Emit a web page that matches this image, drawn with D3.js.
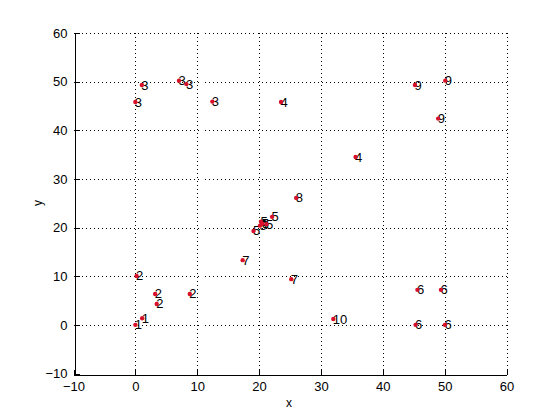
<!DOCTYPE html>
<html><head><meta charset="utf-8">
<script src="https://cdn.jsdelivr.net/npm/d3@7"></script>
<style>body{margin:0;background:#fff}svg{display:block}text{font-family:"Liberation Sans",Arial,sans-serif}</style>
</head><body>
<svg id="c" width="560" height="420"></svg>
<script>
const xs = [0, 1.1, 0.2, 3.2, 3.45, 8.8, 0.0, 1.05, 7.05, 8.25, 12.45, 23.55, 35.6, 45.2, 50.1, 48.95, 26.0, 22.1, 21.2, 20.15, 19.1, 20.3, 20.5, 17.35, 25.2, 32.0, 45.6, 49.4, 45.3, 50.05];
const ys = [0, 1.35, 10.05, 6.35, 4.3, 6.35, 45.8, 49.3, 50.2, 49.5, 45.9, 45.8, 34.5, 49.3, 50.2, 42.4, 26.1, 22.2, 20.7, 20.4, 19.3, 21.2, 20.8, 13.3, 9.4, 1.2, 7.2, 7.2, 0, 0];
const labels = ["1","1","2","2","2","2","3","3","3","3","3","4","4","9","9","9","8","5","5","5","5","5","5","7","7","10","6","6","6","6"];
const xTicks = [-10, 0, 10, 20, 30, 40, 50, 60];
const yTicks = [-10, 0, 10, 20, 30, 40, 50, 60];

const svg = d3.select("#c");
const L = 73.5, R = 506.5, T = 33, B = 373.5;
const x = d3.scaleLinear().domain([-10, 60]).range([L, R]);
const y = d3.scaleLinear().domain([-10, 60]).range([B, T]);

// grid
const g = svg.append("g").attr("stroke", "#000").attr("stroke-width", 1).attr("stroke-dasharray", "1,3").attr("shape-rendering", "crispEdges");
xTicks.filter(t => t > -10).forEach(t => g.append("line").attr("x1", Math.round(x(t)) + 0.5).attr("x2", Math.round(x(t)) + 0.5).attr("y1", T).attr("y2", B));
yTicks.filter(t => t > -10).forEach(t => g.append("line").attr("y1", Math.round(y(t)) + 0.5).attr("y2", Math.round(y(t)) + 0.5).attr("x1", L).attr("x2", R));

// axes
const ax = svg.append("g").attr("transform", `translate(0,${Math.round(B) + 0.5})`)
  .call(d3.axisBottom(x).tickValues(xTicks).tickSizeInner(-5).tickSizeOuter(0).tickPadding(7));
const ay = svg.append("g").attr("transform", `translate(${Math.round(L) + 0.5},0)`)
  .call(d3.axisLeft(y).tickValues(yTicks).tickSizeInner(-5).tickSizeOuter(0).tickPadding(7));
[ax, ay].forEach(a => {
  a.select(".domain").attr("stroke", "#000").attr("shape-rendering", "crispEdges");
  a.selectAll(".tick line").attr("stroke", "#000").attr("shape-rendering", "crispEdges");
  a.selectAll("text").attr("font-size", 13).attr("fill", "#000").attr("font-family", '"Liberation Sans",Arial,sans-serif');
});
ay.selectAll("text").attr("dx", "0");

svg.append("text").attr("x", 289).attr("y", 407).attr("text-anchor", "middle").attr("font-size", 12).text("x");
svg.append("text").attr("transform", "translate(42,203) rotate(-90)").attr("text-anchor", "middle").attr("font-size", 12).text("y");

// points + labels
const data = xs.map((v, i) => ({x: v, y: ys[i], l: labels[i]}));
svg.append("g").selectAll("text").data(data).join("text")
  .attr("x", d => x(d.x) - 0.5).attr("y", d => y(d.y) + 4.5)
  .attr("font-size", 13).attr("fill", "#000").text(d => d.l);
svg.append("g").selectAll("circle").data(data).join("circle")
  .attr("cx", d => x(d.x)).attr("cy", d => y(d.y)).attr("r", 2.2).attr("fill", "#d8102a");
</script>
</body></html>
